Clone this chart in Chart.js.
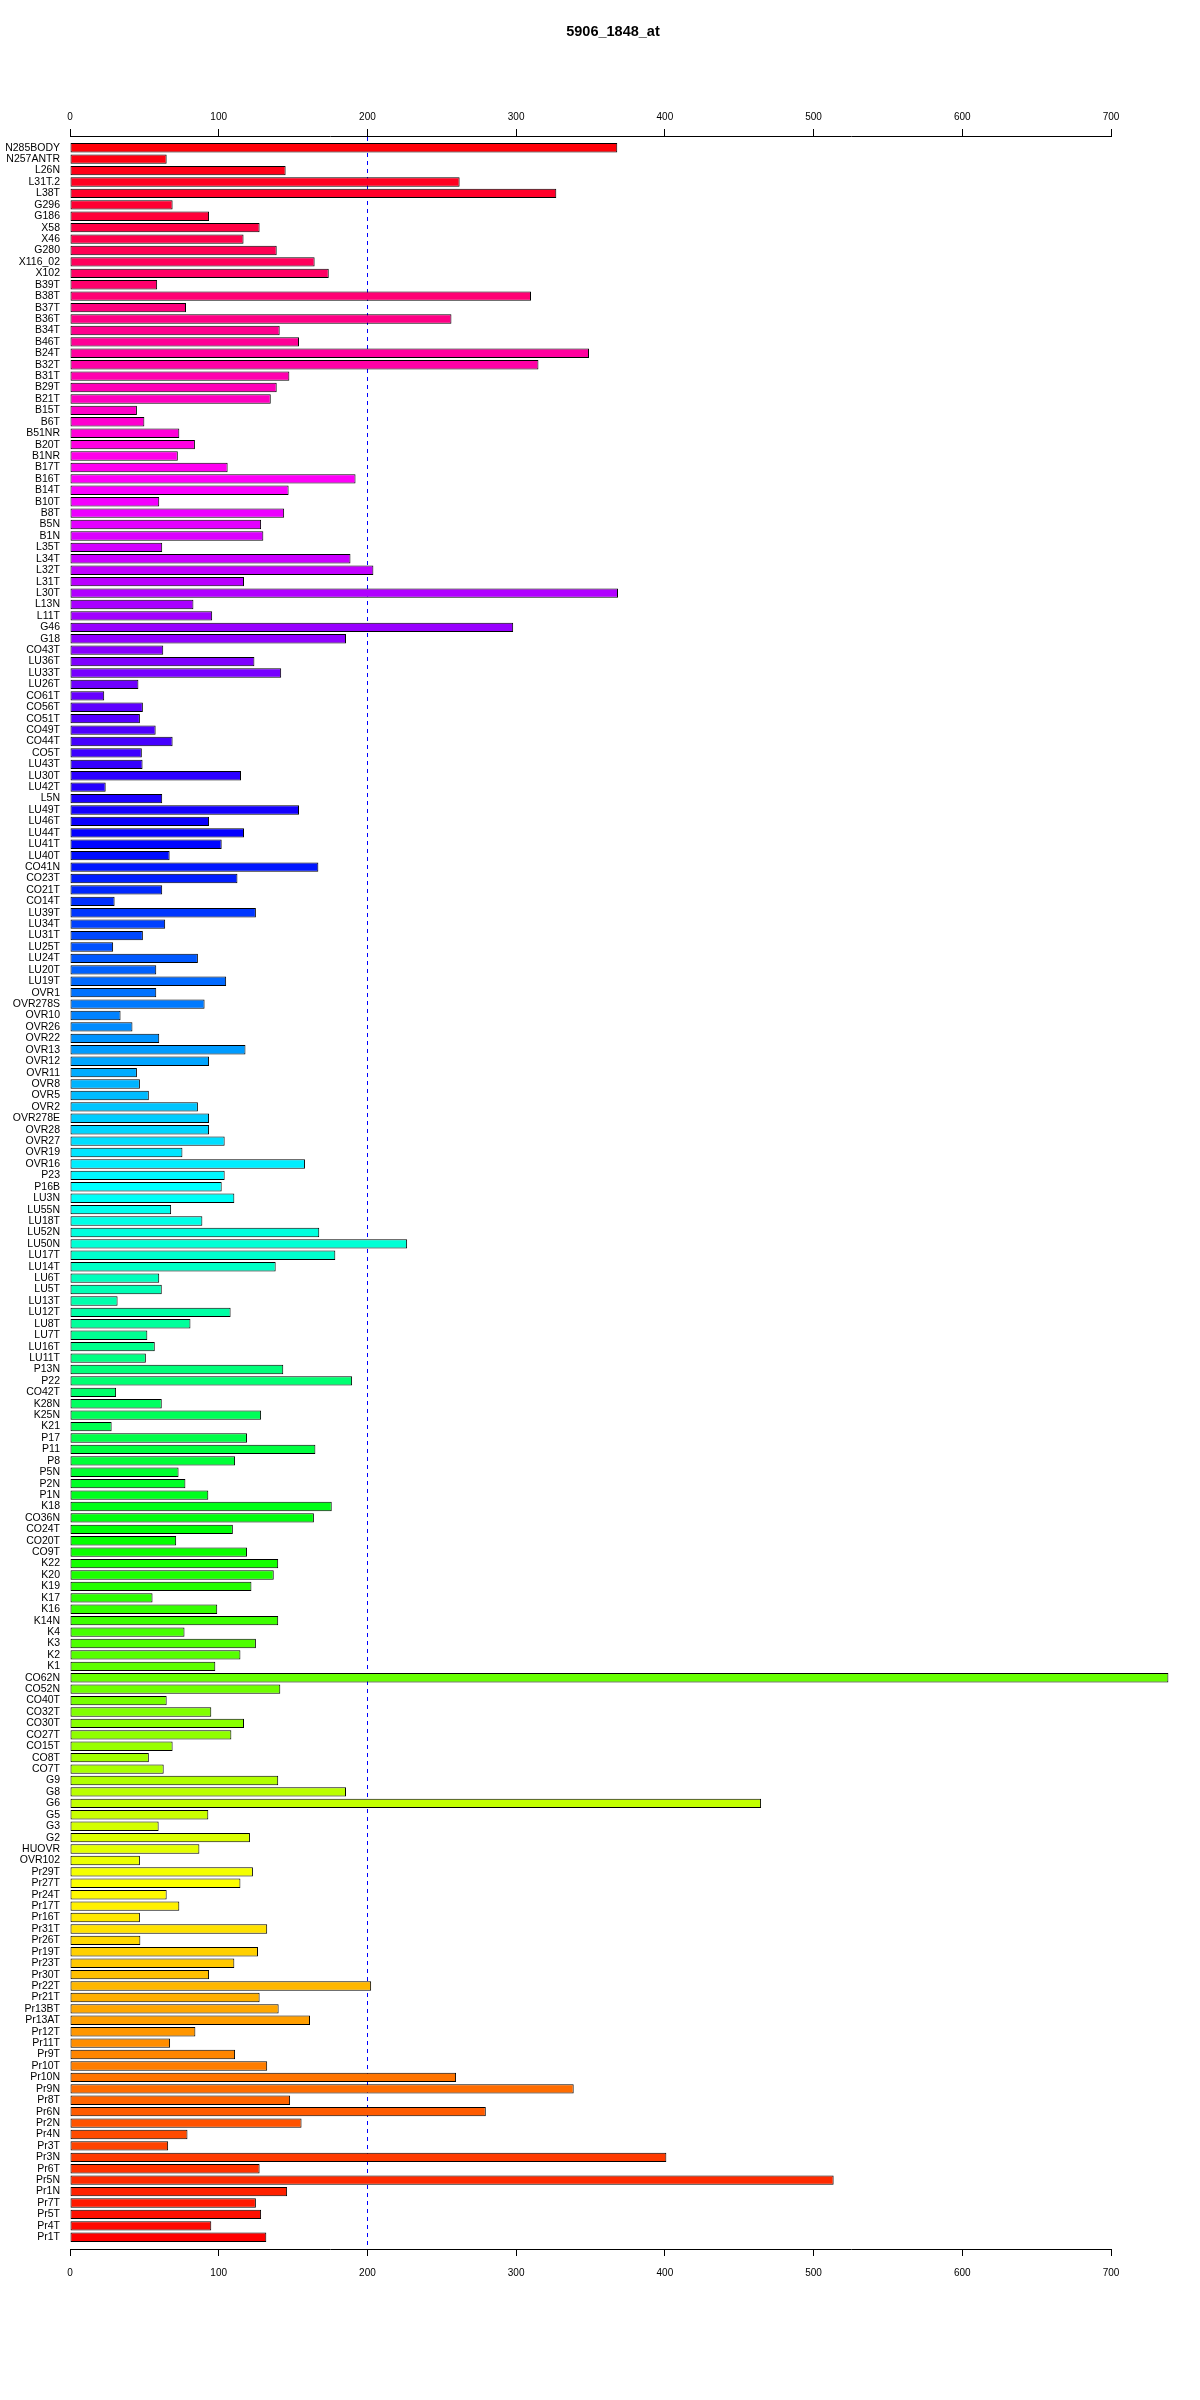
<!DOCTYPE html>
<html>
<head>
<meta charset="utf-8">
<script src="https://cdn.jsdelivr.net/npm/chart.js"></script>
<style>
  html, body { margin: 0; background: #fff; overflow: hidden; }
  #wrap { width: 1226px; height: 2400px; }
</style>
</head>
<body>
<div id="wrap"><canvas id="barChart"></canvas></div>
<script>
const title = '5906_1848_at';

const names = [
    'N285BODY', 'N257ANTR', 'L26N', 'L31T.2', 'L38T', 'G296', 'G186', 'X58', 'X46', 'G280',
    'X116_02', 'X102', 'B39T', 'B38T', 'B37T', 'B36T', 'B34T', 'B46T', 'B24T', 'B32T',
    'B31T', 'B29T', 'B21T', 'B15T', 'B6T', 'B51NR', 'B20T', 'B1NR', 'B17T', 'B16T',
    'B14T', 'B10T', 'B8T', 'B5N', 'B1N', 'L35T', 'L34T', 'L32T', 'L31T', 'L30T',
    'L13N', 'L11T', 'G46', 'G18', 'CO43T', 'LU36T', 'LU33T', 'LU26T', 'CO61T', 'CO56T',
    'CO51T', 'CO49T', 'CO44T', 'CO5T', 'LU43T', 'LU30T', 'LU42T', 'L5N', 'LU49T', 'LU46T',
    'LU44T', 'LU41T', 'LU40T', 'CO41N', 'CO23T', 'CO21T', 'CO14T', 'LU39T', 'LU34T', 'LU31T',
    'LU25T', 'LU24T', 'LU20T', 'LU19T', 'OVR1', 'OVR278S', 'OVR10', 'OVR26', 'OVR22', 'OVR13',
    'OVR12', 'OVR11', 'OVR8', 'OVR5', 'OVR2', 'OVR278E', 'OVR28', 'OVR27', 'OVR19', 'OVR16',
    'P23', 'P16B', 'LU3N', 'LU55N', 'LU18T', 'LU52N', 'LU50N', 'LU17T', 'LU14T', 'LU6T',
    'LU5T', 'LU13T', 'LU12T', 'LU8T', 'LU7T', 'LU16T', 'LU11T', 'P13N', 'P22', 'CO42T',
    'K28N', 'K25N', 'K21', 'P17', 'P11', 'P8', 'P5N', 'P2N', 'P1N', 'K18',
    'CO36N', 'CO24T', 'CO20T', 'CO9T', 'K22', 'K20', 'K19', 'K17', 'K16', 'K14N',
    'K4', 'K3', 'K2', 'K1', 'CO62N', 'CO52N', 'CO40T', 'CO32T', 'CO30T', 'CO27T',
    'CO15T', 'CO8T', 'CO7T', 'G9', 'G8', 'G6', 'G5', 'G3', 'G2', 'HUOVR',
    'OVR102', 'Pr29T', 'Pr27T', 'Pr24T', 'Pr17T', 'Pr16T', 'Pr31T', 'Pr26T', 'Pr19T', 'Pr23T',
    'Pr30T', 'Pr22T', 'Pr21T', 'Pr13BT', 'Pr13AT', 'Pr12T', 'Pr11T', 'Pr9T', 'Pr10T', 'Pr10N',
    'Pr9N', 'Pr8T', 'Pr6N', 'Pr2N', 'Pr4N', 'Pr3T', 'Pr3N', 'Pr6T', 'Pr5N', 'Pr1N',
    'Pr7T', 'Pr5T', 'Pr4T', 'Pr1T'
];

const values = [
    368, 65, 145, 262, 327, 69, 93.5, 127.5, 116.7, 139,
    164.5, 174, 58.6, 310, 78, 256.5, 141, 154, 349, 315,
    147.5, 139, 135, 45, 50, 73.5, 84, 72.5, 106, 192,
    147, 60, 144, 128.5, 130, 62, 188.6, 204, 117, 368.5,
    83, 95.6, 298, 185.6, 62.7, 124, 142, 46, 23, 49,
    47, 57.6, 69, 48.3, 48.8, 115, 24, 62, 154, 93.5,
    117, 102, 67, 167, 112.6, 62, 30, 125, 64, 49,
    29, 86, 58, 105, 58, 90.5, 34, 42, 60, 118,
    93.5, 45, 47, 53, 86, 93.5, 93.5, 104, 75.6, 158,
    104, 102, 110.5, 68, 89, 167.6, 226.7, 178.4, 138.3, 60,
    61.7, 32, 108, 81, 52, 57, 51, 143.4, 189.7, 31,
    61.7, 128.5, 28, 119, 165, 111, 73, 77.6, 93, 176,
    164, 109.5, 71.4, 119, 140, 137, 122, 55.5, 99, 140,
    77, 125, 114.6, 97.7, 738.6, 141.4, 65, 95, 117, 108.5,
    69, 53, 63, 140, 185.6, 464.7, 93, 59.6, 121, 87,
    47, 123, 114.6, 65, 73.5, 47, 132.6, 47.3, 126.4, 110.5,
    93.5, 202.5, 127.5, 140.3, 161.4, 84.3, 67.3, 111, 132.6, 259.6,
    338.7, 148, 279.6, 155.7, 79, 66, 401, 127.5, 513.5, 146,
    125, 128.5, 95, 132
];

const xTicks = [0, 100, 200, 300, 400, 500, 600, 700];
const cutoff = 200;

// rainbow colours, red at the bottom going round to red at the top
const n = names.length;
const colors = names.map((_, i) => 'hsl(' + ((n - 1 - i) / n * 360) + ', 100%, 50%)');

const family = "'Liberation Sans', Arial, sans-serif";
const font = { family: family, size: 10 };

const ctx = document.getElementById('barChart').getContext('2d');
const myChart = new Chart(ctx, {
    type: 'bar',
    data: {
        datasets: [{
            data: values.map((v, i) => ({ x: v, y: i })),
            backgroundColor: colors,
            borderColor: '#000',
            borderWidth: 1,
            borderSkipped: false,
            barPercentage: 0.82,
            categoryPercentage: 1,
            clip: false,
            xAxisID: 'x',
            yAxisID: 'y'
        }]
    },
    options: {
        indexAxis: 'y',
        responsive: true,
        maintainAspectRatio: false,
        animation: false,
        layout: { padding: 0 },
        plugins: {
            legend: { display: false },
            tooltip: { enabled: false },
            title: {
                display: true,
                text: title,
                color: '#000',
                font: { family: family, size: 14.5, weight: 'bold' },
                padding: { top: 23, bottom: 0 }
            }
        },
        scales: {
            x: {
                type: 'linear',
                position: 'top',
                min: xTicks[0],
                max: xTicks[xTicks.length - 1],
                z: 1,
                ticks: { stepSize: 100, color: '#000', font: font, padding: 6 },
                grid: {
                    color: (c) => (c.tick && c.tick.value === cutoff) ? '#0000ff' : 'rgba(0,0,0,0)',
                    tickColor: '#000',
                    tickLength: 7,
                    lineWidth: 1
                },
                border: { display: true, color: '#000', width: 1, dash: [4, 4] },
                afterFit: (s) => { s.height = 95.6; }
            },
            x2: {
                type: 'linear',
                position: 'bottom',
                min: xTicks[0],
                max: xTicks[xTicks.length - 1],
                ticks: { stepSize: 100, color: '#000', font: font, padding: 11 },
                grid: { drawOnChartArea: false, color: '#000', tickLength: 7 },
                border: { display: true, color: '#000', width: 1 },
                afterFit: (s) => { s.height = 151; }
            },
            y: {
                type: 'linear',
                reverse: true,
                offset: false,
                min: -1.03,
                max: n - 1 + 1.03,
                grid: { display: false, drawTicks: false, offset: false },
                border: { display: false },
                ticks: {
                    stepSize: 1,
                    autoSkip: false,
                    color: '#000',
                    font: { family: family, size: 10.5 },
                    padding: 10,
                    callback: (v) => Number.isInteger(v) && names[v] ? names[v] : ''
                },
                afterFit: (s) => { s.width = 70; }
            },
            yR: {
                type: 'linear',
                position: 'right',
                grid: { display: false, drawTicks: false },
                border: { display: false },
                ticks: { display: false },
                afterFit: (s) => { s.width = 115; }
            }
        }
    }
});
</script>
</body>
</html>
